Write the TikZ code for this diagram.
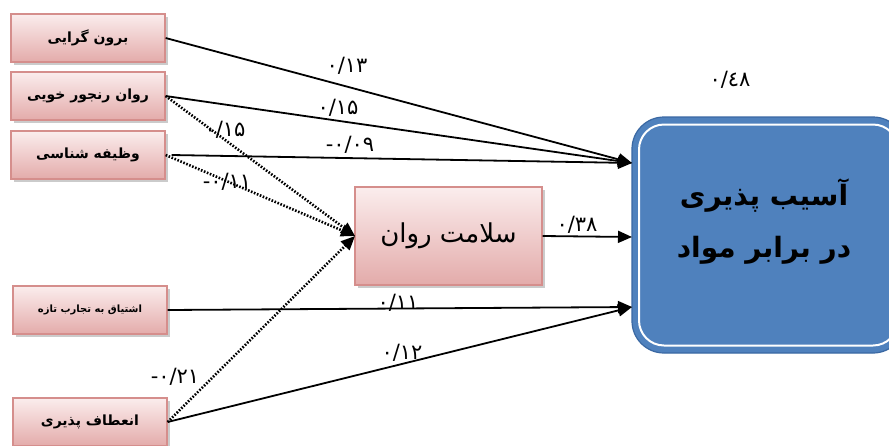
\documentclass[tikz,border=0pt]{standalone}
\usepackage{fontspec}
\TeXXeTstate=1
\newfontfamily\arabicfont[Script=Arabic]{DejaVu Sans}
\newfontfamily\numfont{DejaVu Sans}
\newcommand\dg[1]{\hbox{#1}}
\usetikzlibrary{arrows.meta,shadows}
\definecolor{pinkTop}{HTML}{FBEDED}
\definecolor{pinkBot}{HTML}{E3ABAA}
\definecolor{pinkLine}{HTML}{D58E8C}
\definecolor{bluefill}{HTML}{4F81BD}
\definecolor{blueline}{HTML}{3A68A3}
\tikzset{
  pbox/.style={rectangle, draw=pinkLine, line width=1.3pt, top color=pinkTop, bottom color=pinkBot,
    drop shadow={shadow xshift=3pt, shadow yshift=-3pt, fill=black!40},
    minimum width=154pt, minimum height=48pt, inner sep=2pt,
    font=\arabicfont\bfseries\fontsize{14}{16}\selectfont},
  bigbox/.style={rectangle, rounded corners=32pt, fill=bluefill, draw=blueline, line width=1.2pt,
    minimum width=273pt, minimum height=236pt},
  innerbox/.style={rectangle, rounded corners=25pt, draw=white, line width=2pt,
    minimum width=259pt, minimum height=221pt},
  solidarrow/.style={line width=1.8pt, -{Triangle[length=14pt,width=12pt]}},
  dotarrow/.style={line width=2.6pt, dash pattern=on 1.6pt off 1.6pt, -{Triangle[length=14pt,width=12pt]}},
  coef/.style={font=\numfont\fontsize{21}{23}\selectfont, inner sep=1pt}
}
\begin{document}
\begin{tikzpicture}[x=1pt,y=-1pt]
\useasboundingbox (0,0) rectangle (889,445);
\fill[white] (0,0) rectangle (889,445);
% left boxes
\node[pbox] (b1) at (88,38) {\beginR برون گرایی\endR};
\node[pbox] (b2) at (88,96) {\beginR روان رنجور خویی\endR};
\node[pbox] (b3) at (88,155) {\beginR وظیفه شناسی\endR};
\node[pbox, font=\arabicfont\bfseries\fontsize{10}{12}\selectfont] (b4) at (90,310) {\beginR اشتیاق به تجارب تازه\endR};
\node[pbox] (b5) at (90,422) {\beginR انعطاف پذیری\endR};
% middle box
\node[pbox, minimum width=187pt, minimum height=98pt, font=\arabicfont\fontsize{26}{30}\selectfont] (mid) at (448.5,236) {\beginR سلامت روان\endR};
% big box
\node[bigbox] (big) at (768.5,235) {};
\node[innerbox] (bigin) at (big.center) {};
\node[align=center, font=\arabicfont\bfseries\fontsize{28}{52}\selectfont, text=black] (bigtxt) at (764,222) {\beginR آسیب پذیری\endR\\\beginR در برابر مواد\endR};
% target points
\coordinate (t1) at (632,163);
\coordinate (t2) at (632,237);
\coordinate (t3) at (632,307);
\coordinate (m) at (355,236);
% arrows
\draw[solidarrow] (b1.east) -- (t1);
\draw[solidarrow] (b2.east) -- (t1);
\draw[solidarrow] ([xshift=6pt]b3.east) -- (t1);
\draw[solidarrow] (mid.east) -- (t2);
\draw[solidarrow] (b4.east) -- (t3);
\draw[solidarrow] (b5.east) -- (t3);
\draw[dotarrow] (b2.east) -- (m);
\draw[dotarrow] (b3.east) -- (m);
\draw[dotarrow] (b5.east) -- (m);
% coefficients
\node[coef] (c1) at (347,66) {\dg{۰}\dg{/}\dg{۱}\dg{۳}};
\node[coef] (c2) at (338,108) {\dg{۰}\dg{/}\dg{۱}\dg{۵}};
\node[coef] (c3) at (350,145) {\dg{-}\dg{۰}\dg{/}\dg{۰}\dg{۹}};
\node[coef] (c4) at (225,130) {\dg{۰}\dg{/}\dg{۱}\dg{۵}};
\node[coef] (c5) at (227,182) {\dg{-}\dg{۰}\dg{/}\dg{۱}\dg{۱}};
\node[coef] (c6) at (577,225) {\dg{۰}\dg{/}\dg{۳}\dg{۸}};
\node[coef] (c7) at (398,303) {\dg{۰}\dg{/}\dg{۱}\dg{۱}};
\node[coef] (c8) at (402,353) {\dg{۰}\dg{/}\dg{۱}\dg{۲}};
\node[coef] (c9) at (175,377) {\dg{-}\dg{۰}\dg{/}\dg{۲}\dg{۱}};
\node[coef] (c10) at (730,80) {\dg{۰}\dg{/}\dg{٤}\dg{۸}};
\end{tikzpicture}
\end{document}
